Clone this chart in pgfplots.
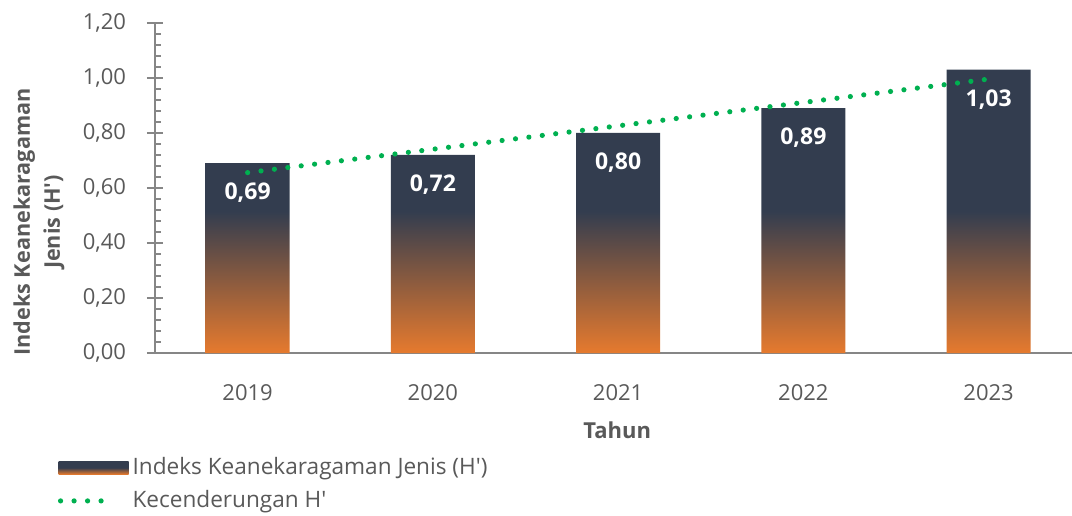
\documentclass[border=0pt]{standalone}
\usepackage{fontspec}
\setmainfont[Ligatures=TeXOff]{Open Sans}
\usepackage{pgfplots}
\pgfplotsset{compat=1.18}
\definecolor{Navy}{HTML}{333D4F}
\definecolor{Orng}{HTML}{E67A2E}
\definecolor{Grn}{HTML}{00B050}
\definecolor{TextGray}{HTML}{595959}
\definecolor{AxisGray}{HTML}{868686}

\begin{document}
\begin{tikzpicture}[x=1pt,y=1pt]
\useasboundingbox (0,0) rectangle (536,257.5);
\begin{axis}[
  at={(77.5pt,81pt)}, anchor=south west,
  scale only axis, width=458.5pt, height=165pt,
  xmin=-0.5, xmax=4.45, ymin=0, ymax=1.2,
  axis x line*=bottom, axis y line*=left,
  axis line style={AxisGray, line width=0.9pt, -},
  xtick={0,1,2,3,4}, xticklabels={2019,2020,2021,2022,2023},
  x tick style={draw=none},
  xticklabel style={yshift=-8pt},
  yticklabel style={xshift=-7pt},
  ytick={0,0.2,0.4,0.6,0.8,1.0,1.2},
  minor y tick num=4,
  tick align=center,
  major tick length=8pt, minor tick length=3pt,
  y tick style={AxisGray, line width=0.9pt},
  minor y tick style={xshift=1.5pt},
  tick label style={TextGray, font=\fontsize{11}{13}\selectfont},
  /pgf/number format/use comma,
  /pgf/number format/fixed,
  /pgf/number format/fixed zerofill,
  /pgf/number format/precision=2,
  /pgf/number format/assume math mode=true,
  xlabel={Tahun},
  xlabel style={at={(rel axis cs:0.504,-0.233)}, anchor=center, TextGray,
    font=\fontsize{11}{13}\selectfont\bfseries},
  ylabel={Indeks Keanekaragaman\\Jenis (H')},
  ylabel style={at={(rel axis cs:-0.1265,0.397)}, anchor=center, align=center, TextGray,
    font=\fontsize{10.8}{15}\selectfont\bfseries},
  legend style={at={(rel axis cs:-0.1058,-0.305)}, anchor=north west, draw=none, fill=none,
    inner sep=0pt, outer sep=0pt, row sep=2.5pt,
    font=\fontsize{11.3}{13}\selectfont, text=TextGray,
    /tikz/every even column/.append style={column sep=4pt}},
  legend cell align=left,
]
\addplot[ybar, bar width=42pt, draw=none,
  top color=Navy, bottom color=Orng, middle color=Navy,
  nodes near coords,
  every node near coord/.append style={anchor=north, yshift=-6.5pt, white,
    font=\fontsize{11.5}{13}\selectfont\bfseries},
  legend image code/.code={
    \path[top color=Navy, bottom color=Orng, middle color=Navy] (0pt,-3.25pt) rectangle (35pt,3.25pt);}
] coordinates {(0,0.69) (1,0.72) (2,0.80) (3,0.89) (4,1.03)};
\addlegendentry{Indeks Keanekaragaman Jenis (H')}
\addplot[Grn, line width=2.6pt, line cap=round, dash pattern=on 0pt off 6.75pt,
  legend image code/.code={
    \draw[Grn, line width=2.6pt, line cap=round, dash pattern=on 0pt off 6.75pt] (1pt,0pt) -- (28pt,0pt);}
] coordinates {(0,0.656) (4,0.996)};
\addlegendentry{Kecenderungan H'}
\end{axis}
\end{tikzpicture}
\end{document}
